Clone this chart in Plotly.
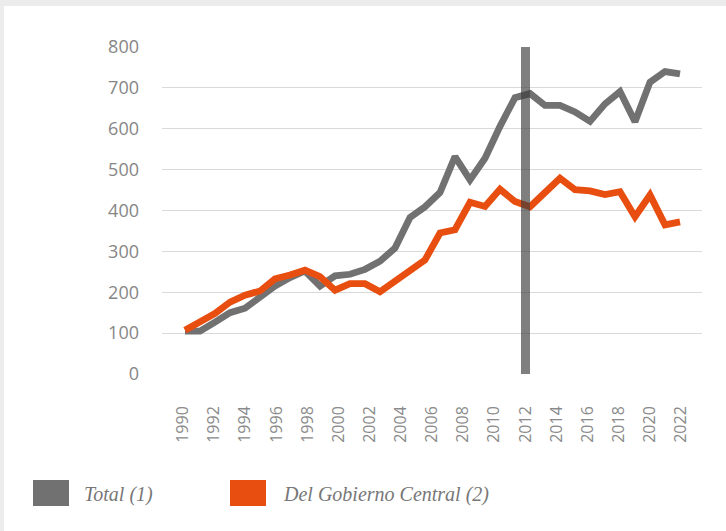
import plotly.graph_objects as go

# ---------------- data ----------------
years = list(range(1990, 2024))
total = [105, 105, 127, 150, 161, 190, 215, 236, 252, 215,
         240, 244, 256, 276, 308, 383, 409, 444, 532, 475,
         528, 606, 676, 686, 657, 657, 641, 618, 661, 691,
         617, 714, 740, 734]
central = [107, 127, 148, 176, 193, 203, 233, 242, 254, 238,
           205, 221, 221, 201, 226, 254, 279, 345, 353, 420,
           410, 452, 422, 409, 444, 479, 451, 448, 439, 446,
           385, 438, 365, 372]
series_names = ["Total (1)", "Del Gobierno Central (2)"]
series_colors = ["#717171", "#e84e10"]
tick_years = list(range(1990, 2023, 2))
marker_year = [2012]
marker_height = [800]
y_ticks = list(range(0, 801, 100))

W, H = 726, 531
L, R, T, B = 162, 24, 47, 157
pw, ph = W - L - R, H - T - B

def px_x(p):
    return (p - L) / pw

def px_y(p):
    return (H - B - p) / ph

fig = go.Figure()

fig.add_trace(go.Scatter(x=years, y=total, mode="lines", name=series_names[0],
                         line=dict(color=series_colors[0], width=6.8),
                         xaxis="x", yaxis="y", showlegend=False))
fig.add_trace(go.Scatter(x=years, y=central, mode="lines", name=series_names[1],
                         line=dict(color=series_colors[1], width=6.8),
                         xaxis="x", yaxis="y", showlegend=False))
fig.add_trace(go.Bar(x=marker_year, y=marker_height, width=0.58,
                     marker=dict(color="rgba(60,60,60,0.66)", line=dict(width=0)),
                     xaxis="x2", yaxis="y", showlegend=False))

# axis ranges (pixel mapping of lines and of labels)
lines_lo = 1990 - 23 / 15.0
lines_hi = 2023 + 22 / 15.0
lab_step = 498 / 32
lab_lo = 1990 - 21 / lab_step
lab_hi = 2022 + 21 / lab_step

shapes = [
    dict(type="rect", xref="paper", yref="paper", layer="below",
         x0=px_x(4), x1=px_x(730), y0=px_y(535), y1=px_y(6),
         fillcolor="white", line=dict(width=0)),
]
annotations = []
leg_x = [33, 230]
txt_x = [82, 281]
for i in range(2):
    shapes.append(dict(type="rect", xref="paper", yref="paper",
                       x0=px_x(leg_x[i]), x1=px_x(leg_x[i] + 36),
                       y0=px_y(506), y1=px_y(480),
                       fillcolor=series_colors[i], line=dict(width=0)))
    annotations.append(dict(xref="paper", yref="paper", x=px_x(txt_x[i]), y=px_y(494),
                            xanchor="left", yanchor="middle", showarrow=False,
                            text=series_names[i],
                            font=dict(family="Liberation Serif", size=20,
                                      color="#777777", style="italic")))

fig.update_layout(
    width=W, height=H,
    margin=dict(l=L, r=R, t=T, b=B, autoexpand=False),
    paper_bgcolor="#ececec",
    plot_bgcolor="rgba(0,0,0,0)",
    showlegend=False,
    bargap=0,
    xaxis=dict(range=[lines_lo, lines_hi], showticklabels=False, showgrid=False,
               zeroline=False, showline=False, ticks=""),
    xaxis2=dict(range=[lab_lo, lab_hi], overlaying="x", side="bottom", anchor="y",
                tickmode="array", tickvals=tick_years,
                ticktext=[str(v) for v in tick_years], tickangle=-90,
                showgrid=False, zeroline=False, showline=False, ticks="",
                ticklabelstandoff=28,
                tickfont=dict(family="Open Sans", size=16, color="#8a8a8a")),
    yaxis=dict(range=[0, 800], tickmode="array", tickvals=y_ticks,
               showgrid=True, gridcolor="#d9d9d9", gridwidth=1,
               zeroline=False, showline=False, ticks="",
               ticklabelstandoff=22,
               tickfont=dict(family="Open Sans", size=18, color="#868686")),
    shapes=shapes,
    annotations=annotations,
)

fig.write_html("out.html", config={"displayModeBar": False},
               post_script="document.body.style.margin='0px';document.body.style.overflow='hidden';")
